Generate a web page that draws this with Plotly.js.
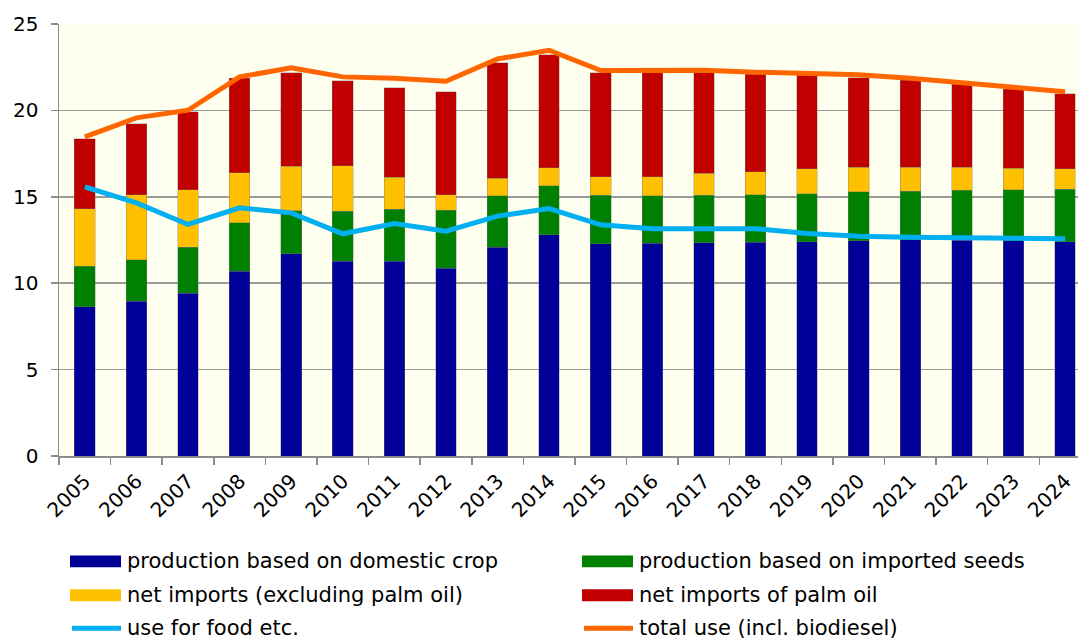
<!DOCTYPE html>
<html>
<head>
<meta charset="utf-8">
<script src="https://cdn.plot.ly/plotly-3.0.1.min.js"></script>
<style>
  html, body { margin: 0; padding: 0; background: #fff; }
  #chart { width: 1078px; height: 640px; }
</style>
</head>
<body>
<div id="chart"></div>
<script>
var years = ['2005', '2006', '2007', '2008', '2009', '2010', '2011', '2012', '2013', '2014',
             '2015', '2016', '2017', '2018', '2019', '2020', '2021', '2022', '2023', '2024'];

// stacked bar segments
var domesticCrop  = [8.65, 8.96, 9.42, 10.69, 11.70, 11.27, 11.27, 10.87, 12.08, 12.80,
                     12.28, 12.32, 12.35, 12.37, 12.39, 12.47, 12.51, 12.49, 12.45, 12.39];
var importedSeeds = [2.33, 2.41, 2.66, 2.80, 2.50, 2.88, 3.00, 3.36, 2.98, 2.84,
                     2.80, 2.74, 2.73, 2.76, 2.80, 2.82, 2.80, 2.89, 2.97, 3.05];
var netImports    = [3.32, 3.76, 3.32, 2.91, 2.57, 2.66, 1.85, 0.90, 1.00, 1.04,
                     1.08, 1.10, 1.29, 1.33, 1.43, 1.42, 1.40, 1.33, 1.22, 1.18];
var palmOil       = [4.07, 4.11, 4.52, 5.46, 5.42, 4.90, 5.18, 5.95, 6.71, 6.55,
                     6.03, 6.01, 5.80, 5.62, 5.40, 5.19, 5.04, 4.81, 4.57, 4.34];

// lines
var foodUse  = [15.58, 14.65, 13.40, 14.36, 14.07, 12.86, 13.45, 13.01, 13.88, 14.32,
                13.38, 13.15, 13.15, 13.15, 12.88, 12.72, 12.66, 12.64, 12.60, 12.57];
var totalUse = [18.47, 19.57, 20.01, 21.94, 22.46, 21.94, 21.86, 21.69, 22.98, 23.48,
                22.31, 22.33, 22.33, 22.21, 22.17, 22.06, 21.86, 21.63, 21.34, 21.08];

var seriesNames = ['production based on domestic crop', 'production based on imported seeds',
                   'net imports (excluding palm oil)', 'net imports of palm oil',
                   'use for food etc.', 'total use (incl. biodiesel)'];

var colors = ['#000099', '#008000', '#FFC000', '#C00000', '#00B0F0', '#FF6600'];
var font = 'DejaVu Sans, Verdana, sans-serif';

function bar(y, i) {
    return {
        x: years, y: y, type: 'bar', name: seriesNames[i],
        width: 0.4,
        marker: { color: colors[i], line: { color: 'rgba(120,120,120,0.6)', width: 0.6 } },
        hoverinfo: 'y'
    };
}
function line(y, i) {
    return {
        x: years, y: y, type: 'scatter', mode: 'lines', name: seriesNames[i],
        line: { color: colors[i], width: 5 },
        hoverinfo: 'y'
    };
}

var data = [
    bar(domesticCrop, 0), bar(importedSeeds, 1), bar(netImports, 2), bar(palmOil, 3),
    line(foodUse, 4), line(totalUse, 5)
];

// hand-made legend, 2 columns x 3 rows, positions in pixels
var W = 1078, H = 640, L = 59, R = 0, T = 24, B = 183.5;
function px(x) { return (x - L) / (W - L - R); }
function py(y) { return (H - B - y) / (H - T - B); }

var shapes = [], annotations = [];
var rowY = [562, 596, 629], colX = [70, 582];
seriesNames.forEach(function (name, i) {
    var cx = colX[i % 2], cy = rowY[Math.floor(i / 2)];
    if (i < 4) {
        shapes.push({ type: 'rect', xref: 'paper', yref: 'paper',
            x0: px(cx), x1: px(cx + 51), y0: py(cy - 6), y1: py(cy + 6),
            fillcolor: colors[i], line: { width: 0 } });
    } else {
        shapes.push({ type: 'line', xref: 'paper', yref: 'paper',
            x0: px(cx + 2), x1: px(cx + 51), y0: py(cy), y1: py(cy),
            line: { color: colors[i], width: 5 } });
    }
    annotations.push({ xref: 'paper', yref: 'paper', x: px(cx + 55), y: py(cy),
        xanchor: 'left', yanchor: 'middle', showarrow: false, text: name,
        font: { family: font, size: 21, color: '#000' } });
});

var layout = {
    width: W, height: H,
    margin: { l: L, r: R, t: T, b: B, pad: 0 },
    paper_bgcolor: '#ffffff',
    plot_bgcolor: '#FFFFF0',
    barmode: 'stack',
    showlegend: false,
    font: { family: font, size: 20, color: '#000' },
    xaxis: {
        type: 'category',
        range: [-0.5, 19.25],
        tickangle: -45,
        ticks: 'outside', tickson: 'boundaries', ticklen: 7, tickcolor: '#8c8c8c', tickwidth: 1.5,
        showline: true, linecolor: '#8c8c8c', linewidth: 1.5,
        showgrid: false,
        ticklabelstandoff: 4,
        tickfont: { family: font, size: 20 }
    },
    yaxis: {
        range: [0, 25], dtick: 5,
        ticks: 'outside', ticklen: 7, tickcolor: '#8c8c8c', tickwidth: 1.5,
        showline: true, linecolor: '#8c8c8c', linewidth: 1.5,
        gridcolor: '#9a9a9a', gridwidth: 1.5,
        zeroline: false,
        ticklabelstandoff: 8,
        tickfont: { family: font, size: 20 }
    },
    shapes: shapes,
    annotations: annotations
};

Plotly.newPlot('chart', data, layout, { displayModeBar: false, staticPlot: true });
</script>
</body>
</html>
